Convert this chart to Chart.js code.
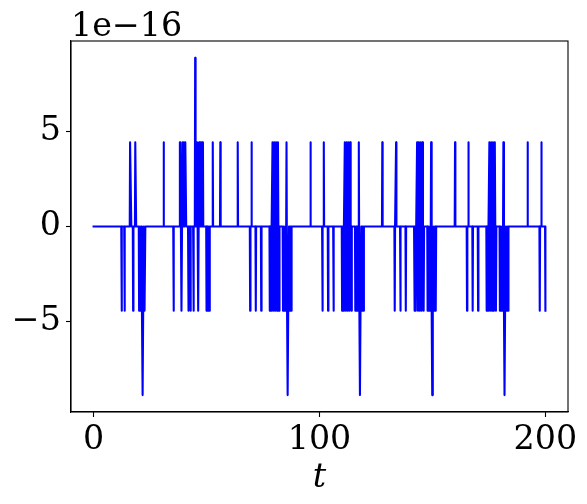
<!DOCTYPE html>
<html>
<head>
<meta charset="utf-8">
<script src="https://cdn.jsdelivr.net/npm/chart.js@4/dist/chart.umd.min.js"></script>
<style>
  html, body { margin: 0; padding: 0; background: #ffffff; }
  #wrap { width: 587px; height: 504px; position: relative; }
</style>
</head>
<body>
<div id="wrap"><canvas id="c" width="587" height="504"></canvas></div>
<script>
// Polyline vertices: [t, value in units of 1e-16]
const segEarly = [
  [0, 0],
  [12.25, 0], [12.4, -4.44], [12.55, 0],
  [13.55, 0], [13.7, -4.44], [13.85, 0],
  [16.0, 0], [16.15, 4.44], [16.55, 4.44], [16.7, 0],
  [17.35, 0], [17.5, -4.44], [17.65, 0],
  [18.3, 0], [18.45, 4.44], [18.7, 4.44], [18.85, 0],
  [20.0, 0], [20.15, -4.44], [20.5, 0], [20.8, -4.44], [21.1, 0], [21.4, -4.44], [21.7, -8.88],
  [21.95, -4.44], [22.25, 0], [22.55, -4.44], [22.75, -4.44], [22.9, 0],
  [30.85, 0], [31.0, 4.44], [31.15, 0],
  [35.25, 0], [35.4, -4.44], [35.55, 0],
  [38.05, 0], [38.2, 4.44], [38.4, 4.44], [38.9, -4.44], [39.4, 4.44], [39.7, 0], [40.0, 4.44],
  [40.3, 0], [40.6, 4.44], [40.85, 4.44], [41.0, 0],
  [41.8, 0], [41.95, -4.44], [42.1, 0],
  [42.75, 0], [42.9, -4.44], [43.05, 0],
  [44.05, 0], [44.2, -4.44], [44.4, 0],
  [44.8, 0], [44.96, 8.88], [45.15, 0],
  [45.6, 0], [45.8, 4.44], [46.3, -4.44], [46.7, 4.44], [47.0, 0], [47.3, 4.44], [47.55, 0],
  [47.9, 4.44], [48.4, 4.44], [48.55, 0],
  [49.85, 0], [50.0, -4.44], [50.25, 0], [50.5, -4.44], [50.8, 0], [51.1, -4.44], [51.35, -4.44], [51.5, 0],
  [52.6, 0], [52.75, 4.44], [52.9, 0],
  [55.95, 0], [56.1, 4.44], [56.25, 0],
  [63.65, 0], [63.8, 4.44], [63.95, 0]
];
const segA = [
  [69.15, 0], [69.3, -4.44], [69.45, 0],
  [69.75, 0], [69.9, 4.44], [70.05, 0],
  [71.65, 0], [71.8, -4.44], [71.95, 0],
  [74.05, 0], [74.2, -4.44], [74.35, 0],
  [77.85, 0], [78.0, -4.44], [78.2, 0], [78.6, -4.44], [78.8, 0], [79.2, 4.44], [79.6, -4.44], [80.0, 4.44],
  [80.4, -4.44], [80.8, 4.44], [81.2, -4.44], [81.6, 4.44], [81.8, 0], [82.1, -4.44], [82.3, 0],
  [83.7, 0], [83.85, -4.44], [84.2, 0], [84.5, -4.44], [84.85, 0], [85.1, -4.44], [85.4, 4.44], [85.65, -4.44],
  [85.9, -8.88], [86.15, -4.44], [86.5, 0], [86.8, -4.44], [87.15, 0], [87.45, -4.44], [87.65, 0],
  [95.85, 0], [96.0, 4.44], [96.15, 0]
];
const segB = [
  [101.15, 0], [101.3, -4.44], [101.45, 0],
  [101.75, 0], [101.9, 4.44], [102.05, 0],
  [103.65, 0], [103.8, -4.44], [103.95, 0],
  [106.05, 0], [106.2, -4.44], [106.35, 0],
  [109.85, 0], [110.0, -4.44], [110.2, 0], [110.6, -4.44], [110.8, 0], [111.2, 4.44], [111.6, -4.44], [112.0, 4.44],
  [112.4, -4.44], [112.8, 4.44], [113.2, -4.44], [113.6, 4.44], [113.8, 0], [114.1, -4.44], [114.3, 0],
  [115.7, 0], [115.85, -4.44], [116.2, 0], [116.5, -4.44], [116.85, 0], [117.1, -4.44], [117.4, 4.44], [117.65, -4.44],
  [117.9, -8.88], [118.15, -4.44], [118.5, 0], [118.8, -4.44], [119.15, 0], [119.45, -4.44], [119.65, 0],
  [127.65, 0], [127.8, 4.44], [127.95, 0]
];
const segC = [
  [133.15, 0], [133.3, -4.44], [133.45, 0],
  [133.75, 0], [133.9, 4.44], [134.05, 0],
  [135.65, 0], [135.8, -4.44], [135.95, 0],
  [138.05, 0], [138.2, -4.44], [138.35, 0],
  [141.85, 0], [142.0, -4.44], [142.2, 0], [142.6, -4.44], [142.8, 0], [143.2, 4.44], [143.6, -4.44], [144.0, 4.44],
  [144.4, -4.44], [144.8, 4.44], [145.2, -4.44], [145.6, 4.44], [145.8, 0], [146.1, -4.44], [146.3, 0],
  [147.7, 0], [147.85, -4.44], [148.2, 0], [148.5, -4.44], [148.85, 0], [149.1, -4.44], [149.4, 4.44], [149.65, -4.44],
  [149.9, -8.88], [150.15, -4.44], [150.5, 0], [150.8, -4.44], [151.15, 0], [151.45, -4.44], [151.65, 0],
  [159.85, 0], [160.0, 4.44], [160.15, 0]
];
const segD = [
  [165.15, 0], [165.3, -4.44], [165.45, 0],
  [165.75, 0], [165.9, 4.44], [166.05, 0],
  [167.65, 0], [167.8, -4.44], [167.95, 0],
  [170.05, 0], [170.2, -4.44], [170.35, 0],
  [173.85, 0], [174.0, -4.44], [174.2, 0], [174.6, -4.44], [174.8, 0], [175.2, 4.44], [175.6, -4.44], [176.0, 4.44],
  [176.4, -4.44], [176.8, 4.44], [177.2, -4.44], [177.6, 4.44], [177.8, 0], [178.1, -4.44], [178.3, 0],
  [179.7, 0], [179.85, -4.44], [180.2, 0], [180.5, -4.44], [180.85, 0], [181.1, -4.44], [181.4, 4.44], [181.65, -4.44],
  [181.9, -8.88], [182.15, -4.44], [182.5, 0], [182.8, -4.44], [183.15, 0], [183.45, -4.44], [183.65, 0],
  [191.95, 0], [192.1, 4.44], [192.25, 0]
];
const segTail = [
  [197.35, 0], [197.5, -4.44], [197.65, 0],
  [198.05, 0], [198.2, 4.44], [198.35, 0],
  [199.85, 0], [200.0, -4.44]
];

const xTicks = [0, 100, 200];
const yTicks = [-5, 0, 5];
const offsetLabel = '1e\u221216';
const xLabel = 't';

const FONT = 'DejaVu Serif';
const FS = 33.33;

function fmt(v) {
  return v < 0 ? '\u2212' + Math.abs(v) : String(v);
}

const points = [].concat(segEarly, segA, segB, segC, segD, segTail).map(p => ({ x: p[0], y: p[1] }));

const framePlugin = {
  id: 'frame',
  afterDraw(chart) {
    const { ctx, chartArea: a } = chart;
    ctx.save();
    ctx.strokeStyle = '#000000';
    ctx.lineWidth = 1.1;
    ctx.strokeRect(a.left, a.top, a.right - a.left, a.bottom - a.top);
    ctx.fillStyle = '#000000';
    ctx.font = FS + 'px "' + FONT + '"';
    ctx.textAlign = 'left';
    ctx.textBaseline = 'alphabetic';
    ctx.fillText(offsetLabel, a.left, a.top - 5);
    ctx.restore();
  }
};

const gridOpts = { display: true, drawOnChartArea: false, drawTicks: true, tickLength: 5, tickColor: '#000000', tickWidth: 1.1 };
const borderOpts = { display: true, color: '#000000', width: 1.1 };

new Chart(document.getElementById('c'), {
  type: 'line',
  data: {
    datasets: [{
      data: points,
      borderColor: '#0000ff',
      borderWidth: 2.08,
      pointRadius: 0,
      tension: 0,
      fill: false,
      borderJoinStyle: 'round',
      borderCapStyle: 'square'
    }]
  },
  options: {
    responsive: false,
    animation: false,
    devicePixelRatio: 1,
    layout: { padding: { top: 41, right: 19, left: 0, bottom: 0 } },
    plugins: { legend: { display: false }, tooltip: { enabled: false }, title: { display: false } },
    scales: {
      x: {
        type: 'linear',
        min: -10,
        max: 210,
        afterBuildTicks: s => { s.ticks = xTicks.map(v => ({ value: v })); },
        afterFit: s => { s.height = 92; },
        ticks: { font: { family: FONT, size: FS }, color: '#000000', padding: 3, maxRotation: 0, autoSkip: false, callback: v => fmt(v) },
        grid: gridOpts,
        border: borderOpts,
        title: { display: true, text: xLabel, color: '#000000', font: { family: FONT, size: FS, style: 'italic' }, padding: { top: 0, bottom: 6 } }
      },
      y: {
        type: 'linear',
        min: -9.77,
        max: 9.77,
        afterBuildTicks: s => { s.ticks = yTicks.map(v => ({ value: v })); },
        afterFit: s => { s.width = 71; },
        ticks: { font: { family: FONT, size: FS }, color: '#000000', padding: 5, autoSkip: false, callback: v => fmt(v) },
        grid: gridOpts,
        border: borderOpts
      }
    }
  },
  plugins: [framePlugin]
});
</script>
</body>
</html>
